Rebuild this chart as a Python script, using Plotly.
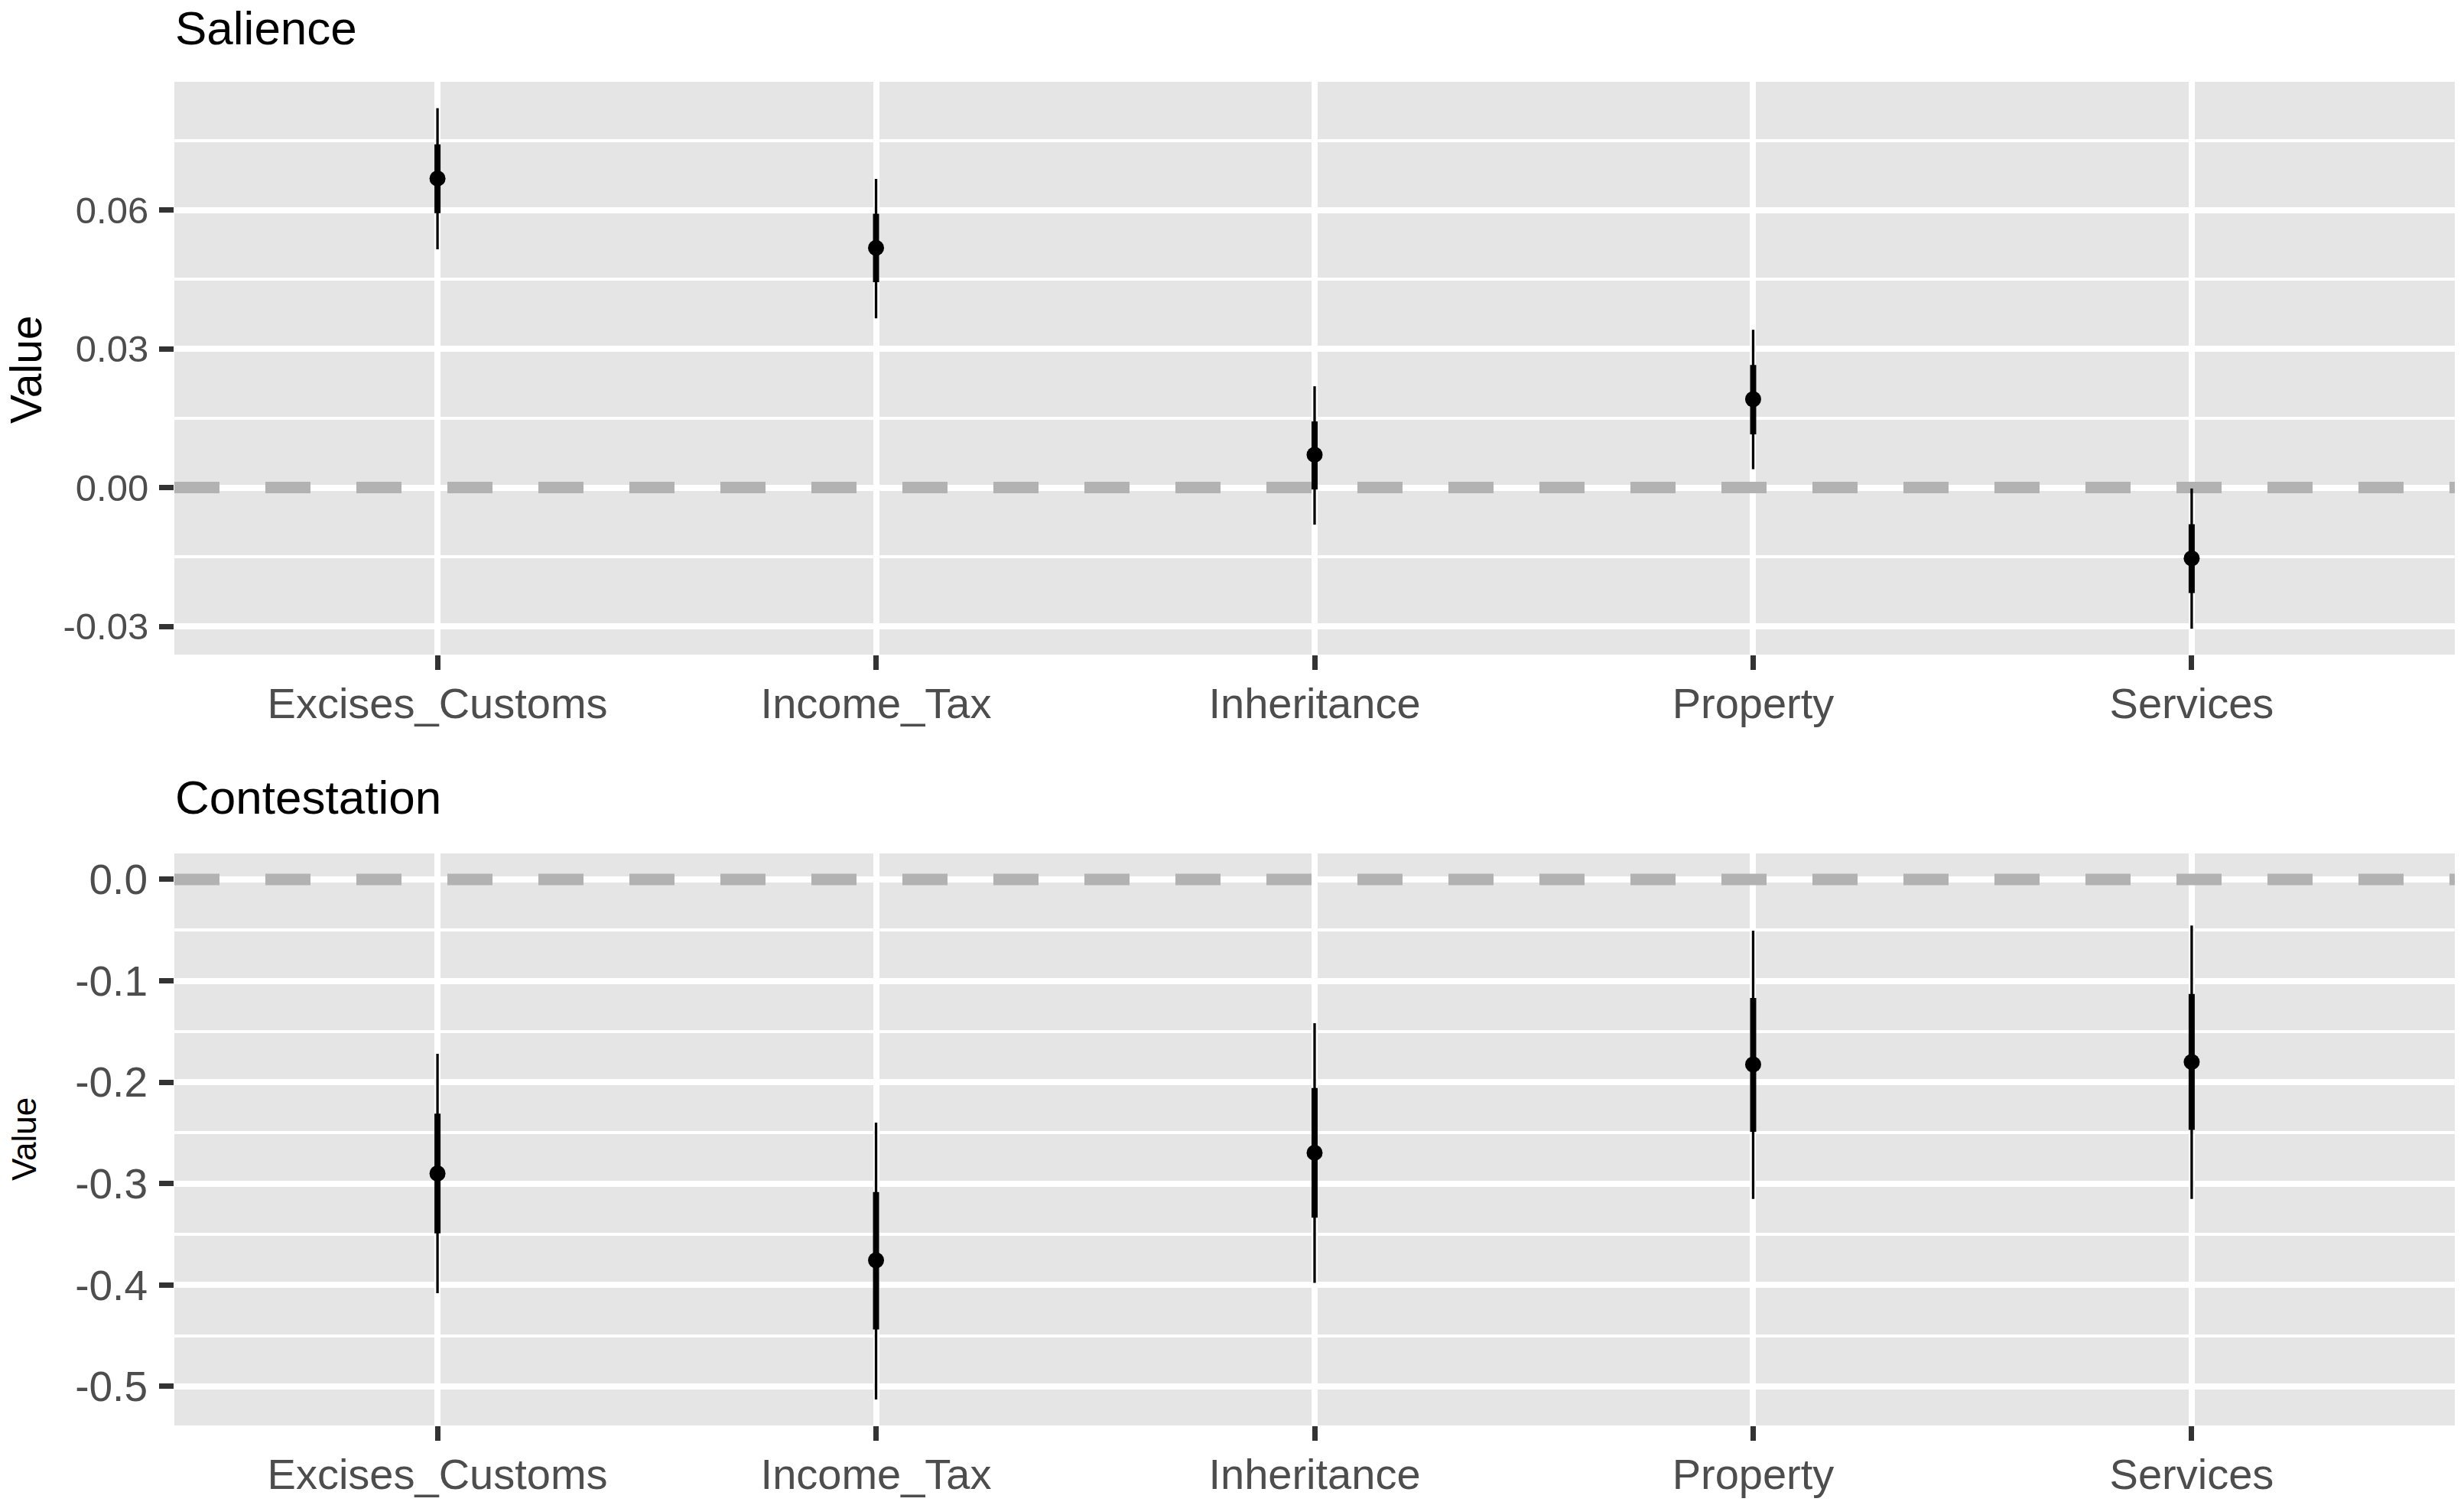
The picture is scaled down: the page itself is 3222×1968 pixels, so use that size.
import plotly.graph_objects as go
from plotly.subplots import make_subplots

categories = ["Excises_Customs", "Income_Tax", "Inheritance", "Property", "Services"]

# Salience panel
sal_est = [0.0668, 0.0518, 0.0071, 0.0191, -0.0153]
sal_inner_lo = [0.0593, 0.0444, -0.0004, 0.0115, -0.0228]
sal_inner_hi = [0.0742, 0.0592, 0.0143, 0.0265, -0.0079]
sal_outer_lo = [0.0515, 0.0366, -0.0080, 0.0040, -0.0305]
sal_outer_hi = [0.0820, 0.0667, 0.0219, 0.0341, -0.0002]

# Contestation panel
con_est = [-0.290, -0.3756, -0.2696, -0.1825, -0.180]
con_inner_lo = [-0.349, -0.4438, -0.3335, -0.249, -0.247]
con_inner_hi = [-0.231, -0.3083, -0.2057, -0.117, -0.113]
con_outer_lo = [-0.408, -0.5128, -0.3978, -0.315, -0.315]
con_outer_hi = [-0.172, -0.2398, -0.1418, -0.0506, -0.0455]

reference_value = 0.0

sal_ticks = [-0.03, 0.0, 0.03, 0.06]
sal_tick_labels = ["-0.03", "0.00", "0.03", "0.06"]
sal_minor = [-0.015, 0.015, 0.045, 0.075]
con_ticks = [0.0, -0.1, -0.2, -0.3, -0.4, -0.5]
con_tick_labels = ["0.0", "-0.1", "-0.2", "-0.3", "-0.4", "-0.5"]
con_minor = [-0.05, -0.15, -0.25, -0.35, -0.45]

# page has an 8px body margin; size the figure so it fits the window exactly
OFF = 8
W, H = 3222 - 2 * OFF, 1968 - 2 * OFF

def px(sx):
    return (sx - OFF) / W

def py(sy):
    return 1 - (sy - OFF) / H

FONT = "Liberation Sans, Arial, Helvetica, sans-serif"
PANEL_BG = "#E5E5E5"
TICK_COL = "#4D4D4D"

xpos = list(range(len(categories)))
xrange_ = [-0.6, len(categories) - 0.4]

fig = make_subplots(rows=2, cols=1)

def add_panel(row, est, ilo, ihi, olo, ohi):
    fig.add_trace(go.Scatter(
        x=xrange_, y=[reference_value, reference_value], mode="lines",
        line=dict(color="#B2B2B2", width=15, dash="59px,60px"),
        showlegend=False, hoverinfo="skip"), row=row, col=1)
    fig.add_trace(go.Scatter(
        x=xpos, y=est, mode="markers",
        marker=dict(size=2, color="black"),
        error_y=dict(type="data", symmetric=False,
                     array=[h - e for h, e in zip(ohi, est)],
                     arrayminus=[e - l for l, e in zip(olo, est)],
                     color="black", thickness=3.3, width=0),
        showlegend=False, hoverinfo="skip"), row=row, col=1)
    fig.add_trace(go.Scatter(
        x=xpos, y=est, mode="markers",
        marker=dict(size=21, color="black", line=dict(width=0)),
        error_y=dict(type="data", symmetric=False,
                     array=[h - e for h, e in zip(ihi, est)],
                     arrayminus=[e - l for l, e in zip(ilo, est)],
                     color="black", thickness=8, width=0),
        showlegend=False), row=row, col=1)

add_panel(1, sal_est, sal_inner_lo, sal_inner_hi, sal_outer_lo, sal_outer_hi)
add_panel(2, con_est, con_inner_lo, con_inner_hi, con_outer_lo, con_outer_hi)

xdom = [px(228), px(3210)]
top_dom = [py(856), py(107)]
bot_dom = [py(1864), py(1116)]

xcommon = dict(
    domain=xdom, range=xrange_, tickmode="array", tickvals=xpos, ticktext=categories,
    showgrid=True, gridcolor="white", gridwidth=8,
    ticks="outside", ticklen=19, tickwidth=7, tickcolor="#333333",
    tickfont=dict(family=FONT, size=56, color=TICK_COL),
    showline=False, zeroline=False, fixedrange=True, ticklabelstandoff=-4,
)
fig.update_xaxes(**xcommon, row=1, col=1)
fig.update_xaxes(**xcommon, row=2, col=1)

ycommon = dict(
    showgrid=True, gridcolor="white", gridwidth=8,
    ticks="outside", ticklen=19, tickwidth=7, tickcolor="#333333",
    showline=False, zeroline=False, tickmode="array", ticklabelstandoff=4,
)
fig.update_yaxes(**ycommon, domain=top_dom, range=[-0.0361, 0.0877],
                 tickvals=sal_ticks, ticktext=sal_tick_labels,
                 tickfont=dict(family=FONT, size=49, color=TICK_COL),
                 minor=dict(tickmode="array", tickvals=sal_minor, showgrid=True,
                            gridcolor="white", gridwidth=4, ticks=""),
                 row=1, col=1)
fig.update_yaxes(**ycommon, domain=bot_dom, range=[-0.5385, 0.0256],
                 tickvals=con_ticks, ticktext=con_tick_labels,
                 tickfont=dict(family=FONT, size=55, color=TICK_COL),
                 minor=dict(tickmode="array", tickvals=con_minor, showgrid=True,
                            gridcolor="white", gridwidth=4, ticks=""),
                 row=2, col=1)

annotations = [
    dict(text="Salience", x=px(227), y=py(36), xref="paper", yref="paper",
         xanchor="left", yanchor="middle", showarrow=False,
         font=dict(family=FONT, size=62, color="black")),
    dict(text="Contestation", x=px(227), y=py(1042), xref="paper", yref="paper",
         xanchor="left", yanchor="middle", showarrow=False,
         font=dict(family=FONT, size=62, color="black")),
    dict(text="Value", x=px(34), y=py(483), xref="paper", yref="paper",
         xanchor="center", yanchor="middle", showarrow=False, textangle=-90,
         font=dict(family=FONT, size=57, color="black")),
    dict(text="Value", x=px(31), y=py(1490), xref="paper", yref="paper",
         xanchor="center", yanchor="middle", showarrow=False, textangle=-90,
         font=dict(family=FONT, size=44, color="black")),
]

fig.update_layout(
    width=W, height=H,
    margin=dict(l=0, r=0, t=0, b=0),
    paper_bgcolor="white", plot_bgcolor=PANEL_BG,
    annotations=annotations, showlegend=False,
    font=dict(family=FONT),
)

fig.write_html("out.html", config={"displayModeBar": False})
